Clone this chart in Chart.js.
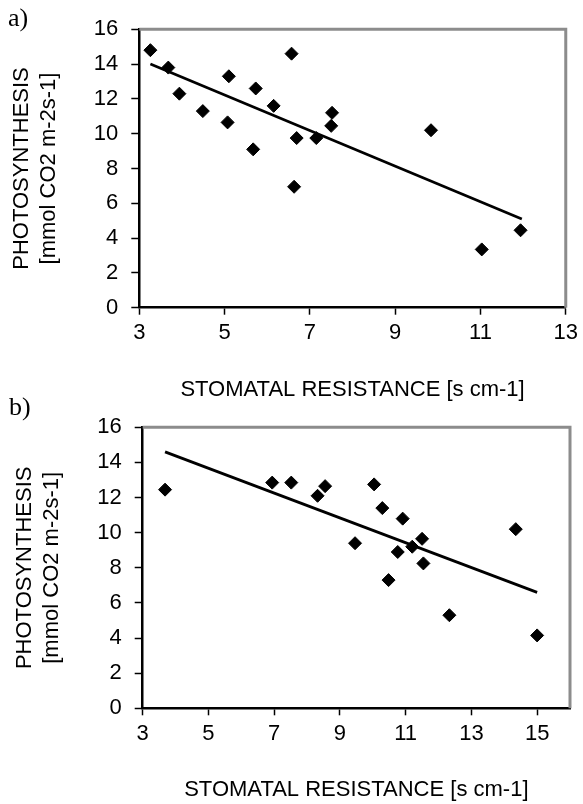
<!DOCTYPE html>
<html lang="en">
<head>
    <meta charset="UTF-8">
    <style>
        * { margin: 0; padding: 0; box-sizing: border-box; }
        body { background: #fff; width: 583px; height: 804px; position: relative; overflow: hidden; }
        canvas { position: absolute; left: 0; }
        #chartA { top: 0; }
        #chartB { top: 400px; }
        .panel-label {
            position: absolute;
            font-family: "Liberation Serif", "DejaVu Serif", serif;
            font-size: 26px;
            color: #000;
            line-height: 1;
        }
    </style>
</head>
<body>
    <canvas id="chartA" width="583" height="404"></canvas>
    <canvas id="chartB" width="583" height="404"></canvas>
    <div class="panel-label" style="left:8px; top:5px;">a)</div>
    <div class="panel-label" style="left:9px; top:394px;">b)</div>

    <script src="https://cdn.jsdelivr.net/npm/chart.js@4.4.1/dist/chart.umd.min.js"></script>
    <script>
        // --- data ---
        const xTitle = 'STOMATAL RESISTANCE [s cm-1]';
        const yTitle = ['PHOTOSYNTHESIS', '[mmol CO2 m-2s-1]'];

        // panel a
        const resistA = [3.26, 3.68, 3.94, 4.49, 5.10, 5.07, 5.73, 5.67, 6.15, 6.57, 6.69, 6.63, 7.15, 7.52, 7.50, 9.84, 11.03, 11.94];
        const photoA  = [14.8, 13.8, 12.3, 11.3, 13.3, 10.65, 12.6, 9.1, 11.6, 14.6, 9.75, 6.95, 9.75, 11.2, 10.45, 10.2, 3.35, 4.45];
        const trendAx = [3.26, 11.97];
        const trendAy = [14.0, 5.1];
        const xTicksA = [3, 5, 7, 9, 11, 13];

        // panel b
        const resistB = [3.68, 6.94, 7.52, 8.32, 8.55, 10.04, 10.29, 10.91, 9.46, 10.76, 11.20, 11.50, 11.54, 10.48, 12.33, 14.35, 15.0];
        const photoB  = [12.45, 12.85, 12.85, 12.1, 12.65, 12.75, 11.4, 10.8, 9.4, 8.9, 9.2, 9.65, 8.25, 7.3, 5.3, 10.2, 4.15];
        const trendBx = [3.68, 15.0];
        const trendBy = [14.6, 6.6];
        const xTicksB = [3, 5, 7, 9, 11, 13, 15];

        const yTicks = [0, 2, 4, 6, 8, 10, 12, 14, 16];

        Chart.defaults.font.family = '"Liberation Sans", Arial, sans-serif';
        Chart.defaults.color = '#000';

        const toPoints = (xs, ys) => xs.map((x, i) => ({ x: x, y: ys[i] }));

        // grey frame on top and right of the plot area, like the Excel chart
        const framePlugin = {
            id: 'frame',
            beforeDatasetsDraw(chart) {
                const a = chart.chartArea;
                const ctx = chart.ctx;
                ctx.save();
                ctx.strokeStyle = '#8c8c8c';
                ctx.lineWidth = 3;
                ctx.beginPath();
                ctx.moveTo(a.left, a.top);
                ctx.lineTo(a.right, a.top);
                ctx.lineTo(a.right, a.bottom);
                ctx.stroke();
                ctx.restore();
            }
        };

        function makeChart(id, xs, ys, tx, ty, xMin, xMax, xTickVals, cfg) {
            return new Chart(document.getElementById(id), {
                type: 'scatter',
                data: {
                    datasets: [{
                        data: toPoints(xs, ys),
                        pointStyle: 'rectRot',
                        pointRadius: 6.5,
                        backgroundColor: '#000',
                        borderColor: '#000',
                        borderWidth: 1,
                        order: 0
                    }, {
                        type: 'line',
                        data: toPoints(tx, ty),
                        borderColor: '#000',
                        borderWidth: 2.7,
                        pointRadius: 0,
                        fill: false,
                        order: 1
                    }]
                },
                options: {
                    responsive: false,
                    animation: false,
                    devicePixelRatio: 1,
                    layout: { padding: { left: 0, top: cfg.top, right: cfg.right, bottom: 0 } },
                    plugins: { legend: { display: false }, tooltip: { enabled: false } },
                    scales: {
                        x: {
                            type: 'linear',
                            min: xMin,
                            max: xMax,
                            afterBuildTicks: s => { s.ticks = xTickVals.map(v => ({ value: v })); },
                            afterFit: s => { s.height = cfg.xHeight; },
                            ticks: { font: { size: 22 }, padding: 5, autoSkip: false, maxRotation: 0 },
                            grid: { drawOnChartArea: false, drawTicks: true, tickLength: 7, color: '#000', tickWidth: 1.5 },
                            border: { display: true, color: '#000', width: 2.5 },
                            title: { display: true, text: xTitle, font: { size: 22, lineHeight: 1.25 }, padding: { top: 0, bottom: cfg.xTitlePad } }
                        },
                        y: {
                            type: 'linear',
                            min: 0,
                            max: 16,
                            afterBuildTicks: s => { s.ticks = yTicks.map(v => ({ value: v })); },
                            afterFit: s => { s.width = cfg.yWidth; },
                            ticks: { font: { size: 22 }, padding: 13 },
                            grid: { drawOnChartArea: false, drawTicks: true, tickLength: 8, color: '#000', tickWidth: 1.5 },
                            border: { display: true, color: '#000', width: 2.5 },
                            title: { display: true, text: yTitle, font: { size: 22, lineHeight: 1.25 }, padding: { top: cfg.yTitlePad, bottom: 0 } }
                        }
                    }
                },
                plugins: [framePlugin]
            });
        }

        makeChart('chartA', resistA, photoA, trendAx, trendAy, 3, 13, xTicksA,
            { top: 29.3, right: 14.7, xHeight: 96.3, yWidth: 139.3, xTitlePad: 0, yTitlePad: 8 });
        makeChart('chartB', resistB, photoB, trendBx, trendBy, 3, 16, xTicksB,
            { top: 27.3, right: 13, xHeight: 95.7, yWidth: 142.7, xTitlePad: 0, yTitlePad: 11 });
    </script>
</body>
</html>
